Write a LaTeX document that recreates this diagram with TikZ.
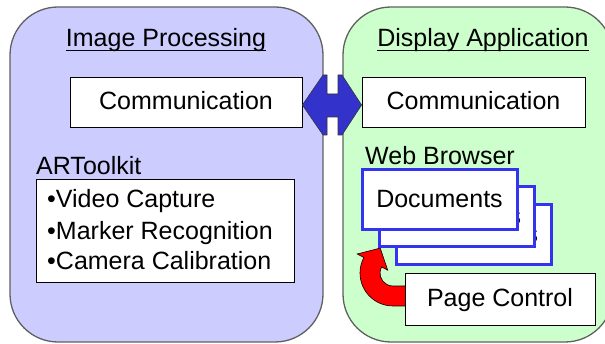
\documentclass[tikz,border=0pt]{standalone}
\usepackage{fontspec}
\setmainfont{Liberation Sans}
\definecolor{panelblue}{RGB}{204,204,255}
\definecolor{panelgreen}{RGB}{204,255,204}
\definecolor{arrowblue}{RGB}{51,51,204}
\definecolor{docblue}{RGB}{51,51,240}
\definecolor{panelline}{RGB}{96,96,96}
\begin{document}
\begin{tikzpicture}[x=1pt,y=-1pt,
  every node/.style={font=\fontsize{25}{30}\selectfont, inner sep=0pt},
  panel/.style={draw=panelline, line width=1.3pt, rounded corners=48pt},
  box/.style={draw=black, line width=0.8pt, fill=white, text height=16pt, text depth=0pt},
  docbox/.style={draw=docblue, line width=3pt, fill=white, minimum width=155pt, minimum height=60pt, text height=16pt, text depth=0pt},
  title/.style={anchor=base},
  txt/.style={anchor=base west},
  uline/.style={line width=0.9pt}]
\useasboundingbox (0,0) rectangle (605,344);
\clip (0,0) rectangle (605,344);
% panels
\node[panel, fill=panelblue, minimum width=313pt, minimum height=335pt] (ip) at (166.5,174.5) {};
\node[panel, fill=panelgreen, minimum width=270pt, minimum height=335pt] (da) at (478,174.5) {};
% titles
\node[title] (iptitle) at (166,47) {Image Processing};
\draw[uline] ([yshift=-3pt]iptitle.base west) -- ([yshift=-3pt]iptitle.base east);
\node[title] (datitle) at (483,47) {Display Application};
\draw[uline] ([yshift=-3pt]datitle.base west) -- ([yshift=-3pt]datitle.base east);
% communication boxes
\node[box, minimum width=232pt, minimum height=50pt] (comL) at (186,102) {Communication};
\node[box, minimum width=223pt, minimum height=50pt] (comR) at (473.5,102) {Communication};
% blue double arrow
\draw[fill=arrowblue, draw=black!80, line width=0.6pt]
  (comL.east |- 0,105) -- (323,75) -- (327,75) -- (327,94) -- (338,94) -- (338,75) -- (342,75)
  -- (comR.west |- 0,105) -- (342,135) -- (338,135) -- (338,117) -- (327,117) -- (327,135) -- (323,135) -- cycle;
% ARToolkit
\node[txt] (artk) at (36,175) {ARToolkit};
\node[box, minimum width=258pt, minimum height=103pt] (list) at (165,230.5) {};
\node[txt] (l1) at (47,208) {•Video Capture};
\node[txt] (l2) at (47,240) {•Marker Recognition};
\node[txt] (l3) at (47,270) {•Camera Calibration};
% web browser
\node[txt] (wb) at (365,165) {Web Browser};
\node[docbox] (doc3) at (473.5,235) {\hspace*{3pt}Documents};
\node[docbox] (doc2) at (456.5,217) {\hspace*{3pt}Documents};
\node[docbox] (doc1) at (439.5,200) {Documents};
% red curved arrow
\draw[fill=red, draw=black, line width=0.6pt]
  (410,306) -- (393,306) arc[start angle=90, end angle=208, radius=33]
  -- (357.2,254) -- (380.2,248.1) -- (387.7,270.2) -- (381.5,266.9)
  arc[start angle=208, end angle=90, radius=13] -- (410,286) -- cycle;
\node[box, minimum width=190pt, minimum height=52pt] (pc) at (500,299) {Page Control};
\end{tikzpicture}
\end{document}
